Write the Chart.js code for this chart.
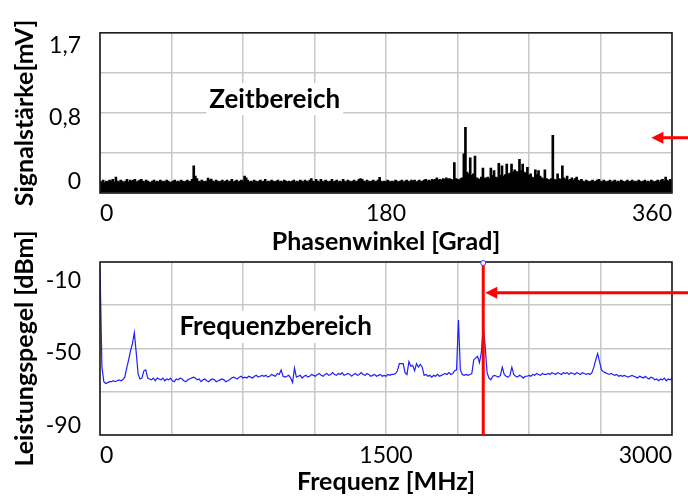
<!DOCTYPE html>
<html>
<head>
<meta charset="utf-8">
<script src="https://cdn.jsdelivr.net/npm/chart.js@4.4.1/dist/chart.umd.min.js"></script>
<style>
  body { margin: 0; background: #fff; }
  #wrap { position: relative; width: 688px; height: 497px; background: #fff; overflow: hidden; }
  #wrap canvas { position: absolute; left: 0; }
  #zeitChart { top: 0; }
  #freqChart { top: 200px; }
</style>
</head>
<body>
<div id="wrap">
  <canvas id="zeitChart" width="688" height="257"></canvas>
  <canvas id="freqChart" width="688" height="297"></canvas>
</div>
<script>
// Zeitbereich: Signalstärke [mV], ein Wert je Grad Phasenwinkel (0..360)
var phaseSignal = [
  0.01, 0.00, 0.02, -0.01, 0.01, 0.00, 0.02, 0.01, 0.03, 0.00,
  0.06, 0.01, 0.00, 0.02, 0.01, -0.01, 0.01, 0.03, 0.00, 0.02,
  0.01, 0.02, 0.03, 0.00, 0.01, 0.02, 0.03, 0.01, 0.00, 0.02,
  0.01, 0.00, -0.01, 0.01, 0.02, 0.00, 0.01, 0.00, 0.02, 0.00,
  0.01, 0.00, 0.02, 0.01, -0.01, 0.00, 0.01, 0.02, 0.00, 0.01,
  0.00, 0.02, 0.01, 0.00, 0.01, 0.02, 0.00, 0.01, 0.03, 0.20,
  0.07, 0.04, 0.01, 0.00, 0.02, 0.01, 0.00, 0.01, 0.045, 0.02,
  0.035, 0.01, 0.00, 0.02, 0.01, 0.00, 0.01, 0.02, 0.00, 0.01,
  0.02, 0.00, 0.01, 0.03, 0.00, 0.01, 0.02, 0.00, 0.01, 0.02,
  0.01, 0.07, 0.05, 0.02, 0.00, 0.01, 0.00, 0.02, 0.01, 0.00,
  0.01, 0.02, 0.00, 0.01, 0.03, 0.00, 0.01, 0.00, 0.02, 0.01,
  0.00, 0.01, 0.02, 0.00, 0.01, 0.00, 0.02, 0.01, 0.00, 0.01,
  0.00, 0.01, 0.02, 0.00, 0.01, 0.00, 0.02, 0.01, 0.00, 0.02,
  0.01, 0.00, 0.02, 0.04, 0.01, 0.00, 0.03, 0.01, 0.00, 0.03,
  0.01, 0.00, 0.02, 0.01, 0.00, 0.01, 0.03, 0.00, 0.01, 0.02,
  0.00, 0.01, 0.00, 0.03, 0.01, 0.00, 0.02, 0.01, 0.00, 0.01,
  0.02, 0.00, 0.01, 0.03, 0.04, 0.03, 0.01, 0.00, 0.02, 0.01,
  0.00, 0.01, 0.02, 0.00, 0.01, 0.02, 0.055, 0.01, 0.00, 0.01,
  0.00, 0.02, 0.01, 0.00, 0.01, 0.00, 0.02, 0.01, 0.00, 0.01,
  0.02, 0.00, 0.01, 0.02, 0.01, 0.00, 0.02, 0.01, 0.02, 0.00,
  0.01, 0.02, 0.00, 0.01, 0.02, 0.03, 0.01, 0.02, 0.01, 0.03,
  0.02, 0.03, 0.05, 0.02, 0.03, 0.02, 0.04, 0.03, 0.05, 0.03,
  0.04, 0.03, 0.02, 0.24, 0.04, 0.03, 0.02, 0.04, 0.05, 0.35,
  0.68, 0.12, 0.10, 0.30, 0.08, 0.10, 0.32, 0.05, 0.04, 0.03,
  0.06, 0.17, 0.05, 0.04, 0.06, 0.04, 0.17, 0.08, 0.14, 0.06,
  0.05, 0.23, 0.08, 0.20, 0.07, 0.09, 0.22, 0.10, 0.11, 0.22,
  0.12, 0.15, 0.13, 0.12, 0.28, 0.14, 0.22, 0.12, 0.11, 0.18,
  0.08, 0.10, 0.06, 0.05, 0.15, 0.09, 0.14, 0.07, 0.05, 0.04,
  0.15, 0.04, 0.03, 0.02, 0.04, 0.58, 0.03, 0.02, 0.10, 0.04,
  0.03, 0.20, 0.05, 0.03, 0.07, 0.02, 0.03, 0.05, 0.02, 0.04,
  0.06, 0.02, 0.01, 0.03, 0.01, 0.00, 0.02, 0.01, 0.00, 0.01,
  0.02, 0.00, 0.01, 0.02, 0.03, 0.01, 0.00, 0.02, 0.01, 0.00,
  0.01, 0.02, 0.00, 0.01, 0.02, 0.00, 0.01, 0.00, 0.02, 0.01,
  0.00, 0.01, 0.02, 0.00, 0.01, 0.02, 0.00, 0.01, 0.00, 0.02,
  0.01, 0.00, 0.01, 0.02, 0.00, 0.01, 0.00, 0.02, 0.01, 0.00,
  0.01, 0.02, 0.00, 0.02, 0.03, 0.01, 0.06, 0.02, 0.01, 0.03,
  0.01
];

// Frequenzbereich: Leistungspegel [dBm], ein Wert je 10 MHz (0..3000)
var freqLevel = [
  -2, -58, -66, -67, -66.5, -66, -66, -65.5, -66, -65.5,
  -65, -65.5, -64.8, -63.5, -58.5, -54, -49, -45, -39, -50,
  -62, -64.5, -64, -60, -59.5, -64, -64.5, -65, -64, -65.5,
  -64, -64.5, -65, -64, -65.5, -64.5, -65, -64, -65.5, -66,
  -64.5, -65, -64, -64.5, -65.5, -66, -65, -64.5, -64, -63.5,
  -64, -65, -64.5, -66, -65, -64.5, -65.5, -66, -65, -64.5,
  -65, -66, -65.5, -65, -64.5, -65, -66, -65.5, -65, -64,
  -63.5, -64, -64.5, -63.5, -63, -64, -63.5, -64, -63, -63.5,
  -64, -63, -62.5, -63.5, -63, -62.5, -63, -62.5, -63.5, -63,
  -62, -62.5, -63, -61.5, -62, -59.5, -63, -63.5, -63, -62.5,
  -64, -66.5, -58.5, -63.5, -63, -62.5, -64, -63, -62.5, -63.5,
  -63, -62, -62.5, -63, -62, -61.5, -62.5, -63, -62, -61.5,
  -62.5, -62, -61, -62, -62.5, -61.5, -62, -61, -62.5, -62,
  -61.5, -62, -63, -62, -61.5, -62.5, -62, -61, -62, -62.5,
  -61.5, -62, -63, -62.5, -62, -63, -62.5, -62, -63, -62.5,
  -63, -62, -62.5, -62, -62, -61.5, -60, -56, -56, -56,
  -61, -62, -55, -57.5, -57, -60, -56, -58, -56.5, -58,
  -62.5, -62, -63, -62.5, -63.5, -62.5, -63, -62, -63, -62.5,
  -62, -61.5, -62, -61, -62, -61.5, -60, -59.5, -32, -59.5,
  -62, -62.5, -62, -62.5, -62, -61.5, -54, -53, -52, -55.5,
  -50, -35.5, -46, -61, -64, -65, -63, -62.5, -63, -63.5,
  -62.5, -58, -62, -63, -63.5, -62.5, -58, -62, -63, -63.5,
  -62.5, -63, -64, -63, -63, -62.5, -63, -62, -62.5, -61.5,
  -62, -62.5, -61.5, -62, -62, -61.5, -62, -61, -61.5, -62,
  -61, -61.5, -62, -61, -61.5, -61, -62, -61, -61.5, -62,
  -61, -61.5, -62, -61, -61.5, -62, -61.5, -62, -61, -58,
  -54, -50.5, -55, -59.5, -60.5, -61, -61.5, -62, -61.5, -62,
  -62.5, -62, -63, -62.5, -63, -62.5, -63, -63.5, -63, -62.5,
  -63, -63.5, -64, -63, -63.5, -64, -63, -64, -64.5, -63.5,
  -64, -65, -64.5, -65.5, -64.5, -65, -64, -65.5, -64.5, -65,
  -64
];

// Achsen: beschriftete Werte und Gitterlinien
var phaseTicks = [0, 180, 360];
var signalTicks = [0, 0.8, 1.7];
var signalGrid = [-0.14, 0.36, 0.86, 1.36, 1.86];
var freqTicks = [0, 1500, 3000];
var levelTicks = [-10, -50, -90];
var levelGrid = [-95.4, -71.55, -47.7, -23.85, 0];

// Markierungen
var markerPhase = 347, markerSignal = 0.55;
var markerFreq = 2010, markerLevel = -17;

var phaseDeg = phaseSignal.map(function (v, i) { return i; });
var freqMHz = freqLevel.map(function (v, i) { return i * 10; });

var tickFont = { family: 'Lato', size: 23 };
var titleFont = { family: 'Lato', size: 25, weight: 'bold' };
var gridColor = '#c8c8c8';

function deComma(v) {
	return String(v).replace('.', ',');
}

function customTicks(grid, labels) {
	return function (scale) {
		var all = grid.concat(labels).sort(function (a, b) { return a - b; });
		scale.ticks = all.map(function (v) { return { value: v }; });
	};
}

function drawFrame(chart) {
	var a = chart.chartArea, ctx = chart.ctx;
	ctx.save();
	ctx.strokeStyle = '#1e1e1e';
	ctx.lineWidth = 1.6;
	ctx.strokeRect(a.left, a.top, a.right - a.left, a.bottom - a.top);
	ctx.restore();
}

function drawBoxLabel(chart, text, xv, yv) {
	var ctx = chart.ctx;
	var x = chart.scales.x.getPixelForValue(xv);
	var y = chart.scales.y.getPixelForValue(yv);
	ctx.save();
	ctx.font = 'bold 26px Lato';
	var w = ctx.measureText(text).width;
	ctx.fillStyle = '#fff';
	ctx.fillRect(x - w / 2 - 3, y - 16, w + 6, 32);
	ctx.fillStyle = '#000';
	ctx.textAlign = 'center';
	ctx.textBaseline = 'middle';
	ctx.fillText(text, x, y);
	ctx.restore();
}

// roter Pfeil vom rechten Rand nach links bis zur Spitze tipX
function drawArrow(chart, tipX, y) {
	var ctx = chart.ctx;
	ctx.save();
	ctx.strokeStyle = '#ff0000';
	ctx.fillStyle = '#ff0000';
	ctx.lineWidth = 3;
	ctx.beginPath();
	ctx.moveTo(chart.width, y);
	ctx.lineTo(tipX + 8, y);
	ctx.stroke();
	ctx.beginPath();
	ctx.moveTo(tipX, y);
	ctx.lineTo(tipX + 12, y - 6);
	ctx.lineTo(tipX + 12, y + 6);
	ctx.closePath();
	ctx.fill();
	ctx.restore();
}

var zeitDeco = {
	id: 'zeitDeco',
	afterDraw: function (chart) {
		drawFrame(chart);
		drawBoxLabel(chart, 'Zeitbereich', 110, 1.03);
		drawArrow(chart, chart.scales.x.getPixelForValue(markerPhase),
			chart.scales.y.getPixelForValue(markerSignal));
	}
};

var freqDeco = {
	id: 'freqDeco',
	afterDraw: function (chart) {
		var ctx = chart.ctx, a = chart.chartArea;
		var mx = chart.scales.x.getPixelForValue(markerFreq);
		drawFrame(chart);
		drawBoxLabel(chart, 'Frequenzbereich', 921, -35.8);
		ctx.save();
		ctx.strokeStyle = '#ff0000';
		ctx.lineWidth = 3;
		ctx.beginPath();
		ctx.moveTo(mx, a.top + 1);
		ctx.lineTo(mx, a.bottom);
		ctx.stroke();
		ctx.strokeStyle = '#3344ff';
		ctx.fillStyle = '#fff';
		ctx.lineWidth = 1;
		ctx.beginPath();
		ctx.arc(mx, a.top + 1, 2.5, 0, Math.PI * 2);
		ctx.fill();
		ctx.stroke();
		ctx.restore();
		drawArrow(chart, mx + 2, chart.scales.y.getPixelForValue(markerLevel));
	}
};

function yAxis(min, max, grid, labels, title) {
	return {
		min: min,
		max: max,
		afterBuildTicks: customTicks(grid, labels),
		afterFit: function (s) { s.width = 100; },
		border: { display: false },
		grid: {
			drawTicks: false,
			lineWidth: 1.5,
			color: function (c) { return grid.indexOf(c.tick.value) >= 0 ? gridColor : 'rgba(0,0,0,0)'; }
		},
		ticks: {
			autoSkip: false,
			padding: 19,
			color: '#000',
			font: tickFont,
			callback: function (v) { return labels.indexOf(v) >= 0 ? deComma(v) : ''; }
		},
		title: { display: true, text: title, color: '#000', font: titleFont, padding: { top: 10, bottom: 0 } }
	};
}

function xAxis(max, step, labels, title, height) {
	return {
		type: 'linear',
		min: 0,
		max: max,
		offset: false,
		afterFit: function (s) { s.height = height; },
		border: { display: false },
		grid: { offset: false, drawTicks: false, lineWidth: 1.5, color: gridColor },
		ticks: {
			stepSize: step,
			autoSkip: false,
			maxRotation: 0,
			align: 'inner',
			padding: 7,
			color: '#000',
			font: tickFont,
			callback: function (v) { return labels.indexOf(v) >= 0 ? String(v) : ''; }
		},
		title: { display: true, text: title, color: '#000', font: titleFont, padding: { top: 0, bottom: 0 } }
	};
}

new Chart(document.getElementById('zeitChart'), {
	type: 'bar',
	data: {
		datasets: [{
			data: phaseDeg.map(function (p, i) { return { x: p, y: phaseSignal[i] }; }),
			backgroundColor: '#000',
			borderWidth: 0,
			barThickness: 2,
			base: signalGrid[0]
		}]
	},
	options: {
		responsive: false,
		animation: false,
		layout: { padding: { top: 19, right: 16, left: 0, bottom: 0 } },
		plugins: { legend: { display: false }, tooltip: { enabled: false } },
		scales: {
			x: xAxis(360, 45, phaseTicks, 'Phasenwinkel [Grad]', 64),
			y: yAxis(signalGrid[0], signalGrid[4], signalGrid, signalTicks, 'Signalstärke[mV]')
		}
	},
	plugins: [zeitDeco]
});

new Chart(document.getElementById('freqChart'), {
	type: 'line',
	data: {
		datasets: [{
			data: freqMHz.map(function (f, i) { return { x: f, y: freqLevel[i] }; }),
			borderColor: '#1f1fff',
			borderWidth: 1.2,
			pointRadius: 0,
			tension: 0,
			fill: false
		}]
	},
	options: {
		responsive: false,
		animation: false,
		layout: { padding: { top: 62, right: 16, left: 0, bottom: 0 } },
		plugins: { legend: { display: false }, tooltip: { enabled: false } },
		scales: {
			x: xAxis(3000, 375, freqTicks, 'Frequenz [MHz]', 62),
			y: yAxis(levelGrid[0], levelGrid[4], levelGrid, levelTicks, 'Leistungspegel [dBm]')
		}
	},
	plugins: [freqDeco]
});
</script>
</body>
</html>
